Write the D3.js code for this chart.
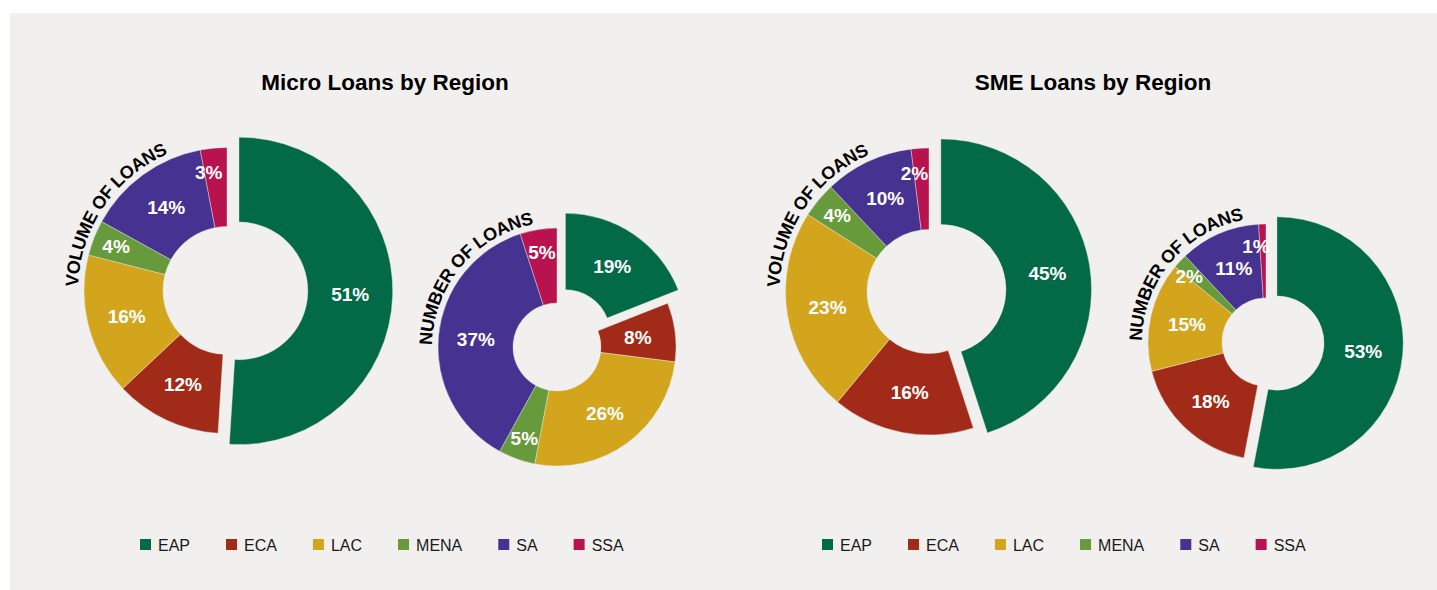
<!DOCTYPE html>
<html lang="en">
	<head>
		<meta charset="utf-8">
		<title>Micro and SME Loans by Region</title>
		<script type="text/javascript" src="https://cdn.jsdelivr.net/npm/d3@7"></script>
		<style type="text/css">
			body { margin: 0; background: #ffffff; }
			svg { display: block; font-family: Arial, "Liberation Sans", sans-serif; }
		</style>
	</head>
	<body>
		<script type="text/javascript">

			//Data
			var regions = ["EAP", "ECA", "LAC", "MENA", "SA", "SSA"];
			var colors = ["#026a46", "#a22a18", "#d2a51d", "#669a3a", "#463290", "#b8134f"];
			var microVolume = [51, 12, 16, 4, 14, 3];
			var microNumber = [19, 8, 26, 5, 37, 5];
			var smeVolume = [45, 16, 23, 4, 10, 2];
			var smeNumber = [53, 18, 15, 2, 11, 1];

			//Width and height
			var w = 1437;
			var h = 590;

			//Layout of the two panels (first slice = EAP is pulled out)
			var panels = [
				{ title: "Micro Loans by Region", tx: 385, legendX: 140,
				  donuts: [
					{ label: "VOLUME OF LOANS", values: microVolume, cx: 227, cy: 290.5, r: 143, ir: 64, explode: 12, grow: 1.075, capMid: 304 },
					{ label: "NUMBER OF LOANS", values: microNumber, cx: 557, cy: 347, r: 119, ir: 44, explode: 15, grow: 1.02, capMid: 310 }
				  ] },
				{ title: "SME Loans by Region", tx: 1093, legendX: 822,
				  donuts: [
					{ label: "VOLUME OF LOANS", values: smeVolume, cx: 929, cy: 291.5, r: 143.5, ir: 62, explode: 12, grow: 1.05, capMid: 304 },
					{ label: "NUMBER OF LOANS", values: smeNumber, cx: 1266, cy: 342, r: 118, ir: 44, explode: 11, grow: 1.07, capMid: 310 }
				  ] }
			];

			var color = d3.scaleOrdinal().domain(regions).range(colors);

			//Create SVG element
			var svg = d3.select("body")
						.append("svg")
						.attr("width", w)
						.attr("height", h);

			svg.append("rect")
			   .attr("x", 10)
			   .attr("y", 13)
			   .attr("width", w - 10)
			   .attr("height", h - 13)
			   .attr("fill", "#f1f0ee");

			var pie = d3.pie().sort(null).value(function(d) { return d.value; });
			var pathId = 0;

			panels.forEach(function(p) {

				svg.append("text")
				   .attr("x", p.tx)
				   .attr("y", 90)
				   .attr("text-anchor", "middle")
				   .style("font-size", "22.5px")
				   .style("font-weight", "bold")
				   .text(p.title);

				p.donuts.forEach(function(dn) {
					var data = regions.map(function(r, i) { return { region: r, value: dn.values[i] }; });
					var arcs = pie(data);
					var g = svg.append("g").attr("transform", "translate(" + dn.cx + "," + dn.cy + ")");

					var arc = d3.arc().innerRadius(dn.ir).outerRadius(dn.r);
					var bigArc = d3.arc().innerRadius(dn.ir * dn.grow).outerRadius(dn.r * dn.grow);

					var shift = function(d) {
						if (d.index !== 0) return "translate(0,0)";
						var a = (d.startAngle + d.endAngle) / 2;
						return "translate(" + (dn.explode * Math.sin(a)) + "," + (-dn.explode * Math.cos(a)) + ")";
					};

					var slices = g.selectAll("g.slice")
					   .data(arcs)
					   .enter()
					   .append("g")
					   .attr("class", "slice")
					   .attr("transform", shift);

					slices.append("path")
					   .attr("d", function(d) { return d.index === 0 ? bigArc(d) : arc(d); })
					   .style("fill", function(d) { return color(d.data.region); })
					   .style("stroke", "#f1f0ee")
					   .style("stroke-width", 0.4);

					slices.append("text")
					   .attr("transform", function(d) {
							var k0 = d.index === 0 ? dn.grow : 1;
							var ir = dn.ir * k0, or = dn.r * k0;
							var k = d.data.value <= 5 ? 0.7 : 0.5;
							var rr = ir + k * (or - ir);
							var a = (d.startAngle + d.endAngle) / 2;
							var nudge = d.data.value <= 3 ? -7 : 0;
							return "translate(" + (rr * Math.sin(a) + nudge) + "," + (-rr * Math.cos(a)) + ")";
					   })
					   .attr("dy", "0.36em")
					   .attr("text-anchor", "middle")
					   .style("fill", "#ffffff")
					   .style("font-size", "19px")
					   .style("font-weight", "bold")
					   .text(function(d) { return d.data.value + "%"; });

					//curved caption
					var tr = dn.r + 6;
					var a0 = 200 * Math.PI / 180, a1 = 420 * Math.PI / 180;
					var id = "cap" + (pathId++);
					g.append("path")
					   .attr("id", id)
					   .attr("d", "M" + (tr * Math.sin(a0)) + "," + (-tr * Math.cos(a0)) +
								  " A" + tr + "," + tr + " 0 1 1 " + (tr * Math.sin(a1)) + "," + (-tr * Math.cos(a1)))
					   .style("fill", "none");

					var off = (dn.capMid - 200) / 220 * 100;
					g.append("text")
					   .style("font-size", "18px")
					   .style("font-weight", "bold")
					   .style("letter-spacing", "-0.4px")
					   .append("textPath")
					   .attr("href", "#" + id)
					   .attr("startOffset", off + "%")
					   .attr("text-anchor", "middle")
					   .text(dn.label);
				});

				//Legend
				var lx = p.legendX;
				regions.forEach(function(r, i) {
					svg.append("rect")
					   .attr("x", lx)
					   .attr("y", 539)
					   .attr("width", 11)
					   .attr("height", 11)
					   .attr("fill", color(r));
					var t = svg.append("text")
					   .attr("x", lx + 18)
					   .attr("y", 551)
					   .style("font-size", "16px")
					   .style("fill", "#1a1a1a")
					   .text(r);
					lx += 18 + t.node().getComputedTextLength() + 36;
				});
			});

		</script>
	</body>
</html>
